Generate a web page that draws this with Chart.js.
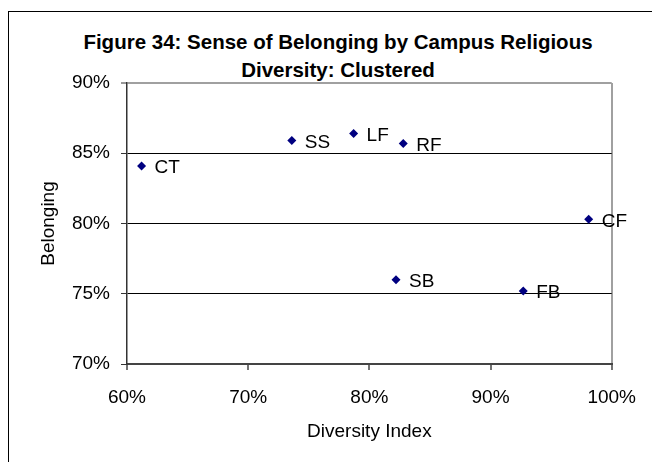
<!DOCTYPE html>
<html>
<head>
<meta charset="utf-8">
<script src="https://cdn.jsdelivr.net/npm/chart.js@4"></script>
<style>
  body { margin: 0; background: #fff; }
  #wrap { position: relative; width: 652px; height: 462px; overflow: hidden; }
  #frame {
    position: absolute; left: 8px; top: 11px; width: 680px; height: 500px;
    border: 1px solid #000;
  }
  #title {
    position: absolute; left: 8px; top: 28px; width: 660px;
    text-align: center; font: bold 20.5px "Liberation Sans", Arial, sans-serif;
    line-height: 28px; color: #000;
  }
  #myChart { position: absolute; left: 0; top: 0; }
</style>
</head>
<body>
<div id="wrap">
  <div id="frame"></div>
  <div id="title">Figure 34: Sense of Belonging by Campus Religious<br>Diversity: Clustered</div>
  <canvas id="myChart" width="652" height="462"></canvas>
</div>
<script>
// campus clusters: diversity index vs. sense of belonging (in %)
const groups = ['CT', 'SS', 'LF', 'RF', 'SB', 'FB', 'CF'];
const diversity = [61.2, 73.6, 78.7, 82.8, 82.2, 92.7, 98.1];
const belonging = [84.1, 85.9, 86.4, 85.7, 76.0, 75.2, 80.3];

const font = '"Liberation Sans", Arial, sans-serif';

var ctx = document.getElementById('myChart').getContext('2d');
let myChart = new Chart(ctx, {
  type: 'scatter',
  data: {
    datasets: [{
      data: groups.map((g, i) => ({ x: diversity[i], y: belonging[i] })),
      pointStyle: 'rectRot',
      pointRadius: 4.5,
      pointBackgroundColor: '#000080',
      pointBorderColor: '#000080',
      pointBorderWidth: 0
    }]
  },
  options: {
    responsive: false,
    animation: false,
    layout: {
      padding: { left: 8, top: 83, right: 26, bottom: 0 }
    },
    plugins: {
      legend: { display: false },
      tooltip: { enabled: false }
    },
    scales: {
      x: {
        type: 'linear',
        position: 'bottom',
        min: 60,
        max: 100,
        afterFit: (s) => { s.height = 98; },
        ticks: {
          stepSize: 10,
          color: '#000',
          padding: 16,
          font: { family: font, size: 19 },
          callback: (v) => v + '%'
        },
        grid: {
          color: (c) => c.tick && c.tick.value === 100 ? '#a0a0a0' : 'transparent',
          lineWidth: 2,
          tickLength: 6,
          tickColor: '#444',
          tickWidth: 1.5
        },
        border: { color: '#444', width: 2 },
        title: {
          display: true,
          text: 'Diversity Index',
          color: '#000',
          font: { family: font, size: 19 },
          padding: { top: 0, bottom: 19 }
        }
      },
      y: {
        type: 'linear',
        min: 70,
        max: 90,
        afterFit: (s) => { s.width = 119; },
        ticks: {
          stepSize: 5,
          color: '#000',
          padding: 11,
          font: { family: font, size: 19 },
          callback: (v) => v + '%'
        },
        grid: {
          color: (c) => c.tick && c.tick.value === 90 ? '#a0a0a0' : '#000',
          lineWidth: (c) => c.tick && c.tick.value === 90 ? 2 : 1,
          tickLength: 6,
          tickColor: '#333',
          tickWidth: 1
        },
        border: { color: '#333', width: 1.5 },
        title: {
          display: true,
          text: 'Belonging',
          color: '#000',
          font: { family: font, size: 19 },
          padding: { top: 29, bottom: 0 }
        }
      }
    }
  },
  plugins: [{
    // group name to the right of each diamond
    afterDatasetsDraw: (chart) => {
      let c = chart.ctx;
      let meta = chart.getDatasetMeta(0);
      c.save();
      c.font = '19px ' + font;
      c.fillStyle = '#000';
      c.textAlign = 'left';
      c.textBaseline = 'middle';
      meta.data.forEach((pt, i) => {
        c.fillText(groups[i], pt.x + 13, pt.y + 2);
      });
      c.restore();
    }
  }]
});
</script>
</body>
</html>
